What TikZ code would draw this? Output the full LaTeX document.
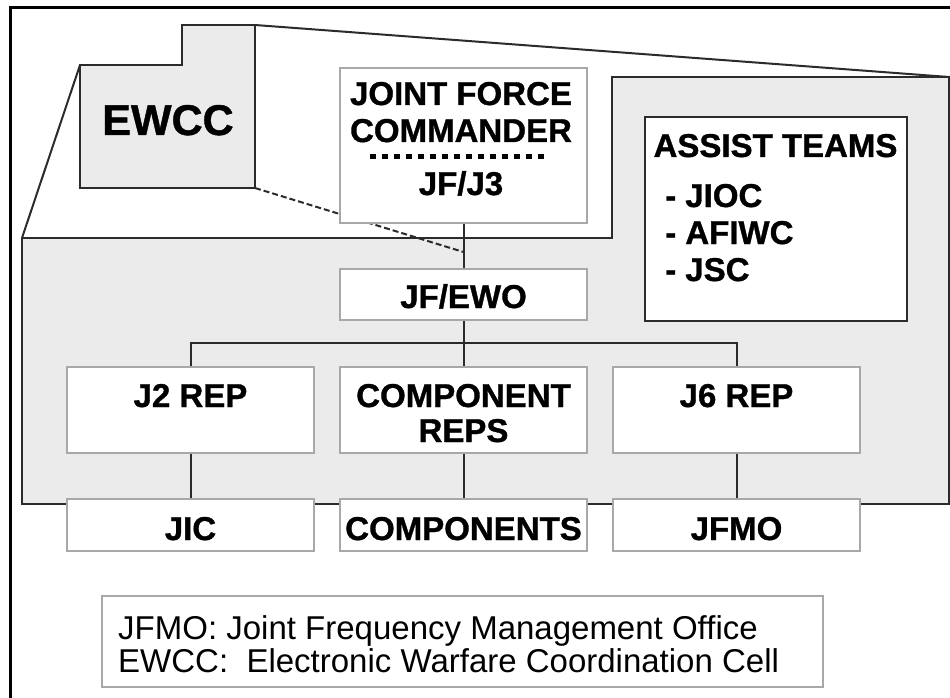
\documentclass[tikz,border=0pt]{standalone}
\usepackage{fontspec}
\setmainfont{Liberation Sans}[BoldFeatures={FakeBold=1}]
\definecolor{panelgray}{HTML}{EBEBEB}
\definecolor{boxedge}{HTML}{A8A8A8}
\definecolor{darkline}{HTML}{2B2B2B}
\begin{document}
\begin{tikzpicture}[x=1pt,y=-1pt,
  frame/.style={line width=3pt,black},
  outline/.style={line width=2pt,darkline,line join=miter},
  panel/.style={outline,fill=panelgray},
  box/.style={draw=boxedge,line width=2pt,fill=white,rectangle,inner sep=0pt},
  darkbox/.style={draw=darkline,line width=2pt,fill=white,rectangle,inner sep=0pt},
  conn/.style={line width=2pt,darkline},
  dashconn/.style={line width=2pt,darkline,dash pattern=on 6pt off 3pt},
  dotrule/.style={line width=5pt,black,dash pattern=on 6pt off 6pt},
  lbl/.style={font=\fontsize{33}{38}\selectfont\bfseries,inner sep=0pt,anchor=base},
  biglbl/.style={font=\fontsize{43}{48}\selectfont\bfseries,inner sep=0pt,anchor=base},
  itemlbl/.style={lbl,anchor=base west},
  note/.style={font=\fontsize{33}{38}\selectfont,inner sep=0pt,anchor=base west}]
\useasboundingbox (0,0) rectangle (950,698);

% outer frame (open to the right and below)
\draw[frame] (10,698) -- (10,8) -- (950,8);

% perspective lines from the cell to the expanded panel
\draw[outline] (255,25) -- (949,77);
\draw[outline] (80,65) -- (22,238);

% expanded panel
\draw[panel] (22,238) -- (612,238) -- (612,77) -- (949,77) -- (949,504) -- (22,504) -- cycle;

% EWCC cell
\draw[panel] (80,65) -- (182,65) -- (182,25) -- (255,25) -- (255,188) -- (80,188) -- cycle;
\coordinate (ewccbr) at (255,188);
\node[biglbl] (ewcc) at (168,135) {EWCC};

% dashed tie from the cell to the command line
\coordinate (dashend) at (463.5,252);
\draw[dashconn] (ewccbr) -- (dashend);

% boxes
\node[box,minimum width=247pt,minimum height=155pt] (j3) at (463.5,145.5) {};
\node[box,minimum width=247pt,minimum height=51pt] (ewo) at (463.5,294.5) {};
\node[box,minimum width=247pt,minimum height=86pt] (j2) at (190.5,410) {};
\node[box,minimum width=247pt,minimum height=86pt] (creps) at (463.5,410) {};
\node[box,minimum width=247pt,minimum height=86pt] (j6) at (736.5,410) {};
\node[box,minimum width=247pt,minimum height=52pt] (jic) at (190.5,525) {};
\node[box,minimum width=247pt,minimum height=52pt] (comps) at (463.5,525) {};
\node[box,minimum width=247pt,minimum height=52pt] (jfmo) at (736.5,525) {};
\node[darkbox,minimum width=262pt,minimum height=204pt] (assist) at (776,219) {};
\node[box,minimum width=721pt,minimum height=91pt] (legend) at (462.5,641.5) {};

% connectors
\coordinate (bus) at (463.5,343);
\draw[conn] (j3.south) -- (ewo.north);
\draw[conn] (ewo.south) -- (bus);
\draw[conn] (j2.north) |- (bus) -| (j6.north);
\draw[conn] (bus) -- (creps.north);
\draw[conn] (j2.south) -- (jic.north);
\draw[conn] (creps.south) -- (comps.north);
\draw[conn] (j6.south) -- (jfmo.north);

% labels
\node[lbl] (t1) at (461,105) {JOINT FORCE};
\node[lbl] (t2) at (461,142) {COMMANDER};
\coordinate (dotl) at (370,156);
\coordinate (dotr) at (548,156);
\draw[dotrule] (dotl) -- (dotr);
\node[lbl] (t3) at (461,195) {JF/J3};
\node[lbl] (t4) at (463.5,308) {JF/EWO};
\node[lbl] (t5) at (190.5,407) {J2 REP};
\node[lbl] (t6) at (463.5,407) {COMPONENT};
\node[lbl] (t7) at (463.5,442) {REPS};
\node[lbl] (t8) at (736.5,407) {J6 REP};
\node[lbl] (t9) at (190.5,540) {JIC};
\node[lbl] (t10) at (463.5,540) {COMPONENTS};
\node[lbl] (t11) at (736.5,540) {JFMO};
\node[lbl] (t12) at (775.5,157) {ASSIST TEAMS};
\node[itemlbl] (t13) at (665,207) {- JIOC};
\node[itemlbl] (t14) at (665,244) {- AFIWC};
\node[itemlbl] (t15) at (665,281) {- JSC};
\node[note] (n1) at (118,639) {JFMO: Joint Frequency Management Office};
\node[note] (n2) at (118,672) {EWCC:\ \ Electronic Warfare Coordination Cell};
\end{tikzpicture}
\end{document}
